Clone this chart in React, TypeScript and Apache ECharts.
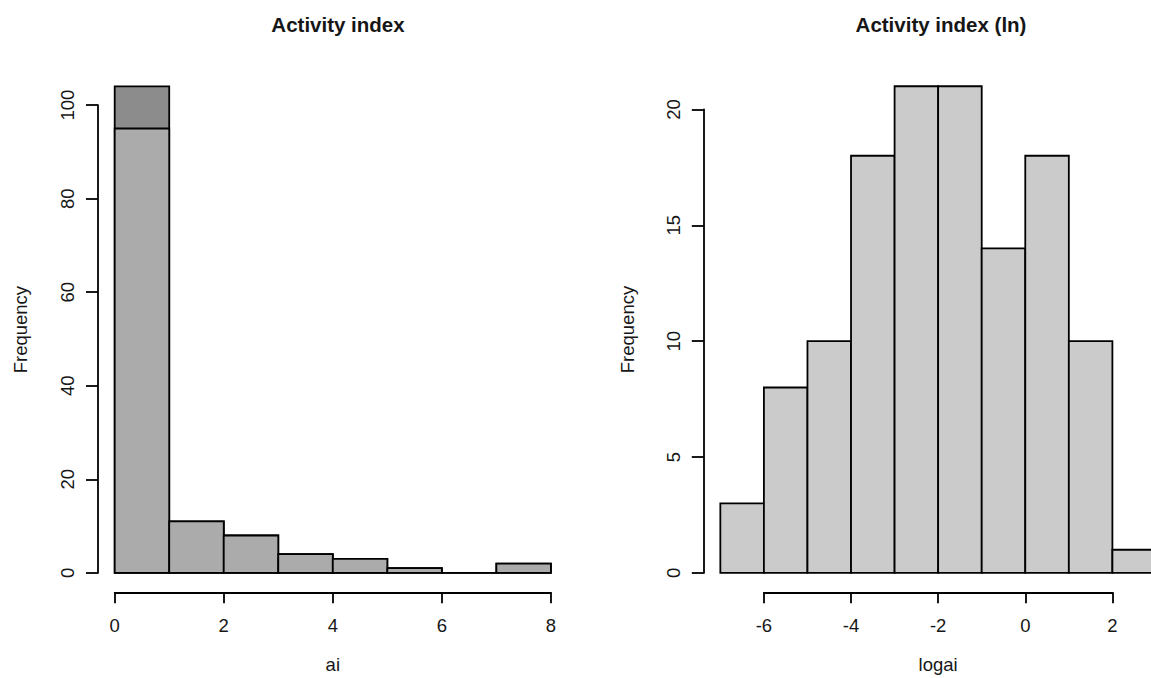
import React, { useEffect, useRef } from "react";
import * as echarts from "echarts";

// ---- data ----
const aiBinEdges = [0, 1, 2, 3, 4, 5, 6, 7, 8];
const aiCountsAll = [104, 11, 8, 4, 3, 1, 0, 2];
const aiCountsSub = [95, 11, 8, 4, 3, 1, 0, 2];
const logaiBinEdges = [-7, -6, -5, -4, -3, -2, -1, 0, 1, 2, 3];
const logaiCounts = [3, 8, 10, 18, 21, 21, 14, 18, 10, 1];

const leftTitle = "Activity index";
const rightTitle = "Activity index (ln)";
const leftXName = "ai";
const rightXName = "logai";
const yName = "Frequency";

const FONT = "'Liberation Sans', Arial, sans-serif";
const TXT = "#161616";
const LW = 1.8;
const AX_FS = 18.5;

function toBins(edges: number[], counts: number[]) {
  return counts.map((c, i) => [edges[i], edges[i + 1], c]);
}

function makeRender(fill: string) {
  return (_params: any, api: any) => {
    const x0 = api.value(0);
    const x1 = api.value(1);
    const c = api.value(2);
    const p0 = api.coord([x0, c]);
    const p1 = api.coord([x1, 0]);
    const w = p1[0] - p0[0];
    const h = p1[1] - p0[1];
    if (h < 0.5) {
      return {
        type: "line",
        shape: { x1: p0[0], y1: p1[1], x2: p1[0], y2: p1[1] },
        style: { stroke: "#000", lineWidth: LW },
      };
    }
    return {
      type: "rect",
      shape: { x: p0[0], y: p0[1], width: w, height: h },
      style: { fill, stroke: "#000", lineWidth: LW },
    };
  };
}

function xAxisOpt(gridIndex: number, min: number, max: number, name: string) {
  return {
    type: "value",
    gridIndex,
    min,
    max,
    interval: 2,
    position: "bottom",
    offset: 19.4,
    name,
    nameLocation: "middle",
    nameGap: 63,
    nameTextStyle: { fontFamily: FONT, fontSize: AX_FS, color: TXT },
    axisLine: { show: true, onZero: false, lineStyle: { color: "#000", width: LW } },
    axisTick: { show: true, length: 11, lineStyle: { color: "#000", width: LW } },
    axisLabel: { fontFamily: FONT, fontSize: AX_FS, color: TXT, margin: 24 },
    splitLine: { show: false },
  };
}

function yAxisOpt(gridIndex: number, max: number, interval: number, offset: number) {
  return {
    type: "value",
    gridIndex,
    min: 0,
    max,
    interval,
    position: "left",
    offset,
    axisLine: { show: true, onZero: false, lineStyle: { color: "#000", width: LW } },
    axisTick: { show: true, length: 12, lineStyle: { color: "#000", width: LW } },
    axisLabel: { fontFamily: FONT, fontSize: AX_FS, color: TXT, margin: 21, rotate: 90 },
    splitLine: { show: false },
  };
}

export default function App() {
  const ref = useRef<HTMLDivElement>(null);
  useEffect(() => {
    if (!ref.current) return;
    const chart = echarts.init(ref.current, undefined, { renderer: "svg" });
    chart.setOption({
      animation: false,
      backgroundColor: "#ffffff",
      title: [
        {
          text: leftTitle,
          left: 333,
          top: 9,
          textAlign: "center",
          textStyle: { fontFamily: FONT, fontSize: 20.5, fontWeight: "bold", color: TXT },
        },
        {
          text: rightTitle,
          left: 936,
          top: 9,
          textAlign: "center",
          textStyle: { fontFamily: FONT, fontSize: 20.5, fontWeight: "bold", color: TXT },
        },
      ],
      grid: [
        {
          left: 114.7,
          width: 436.2,
          top: 105.1,
          height: 467.8,
          containLabel: false,
          outerBoundsMode: "none",
        },
        {
          left: 763.9,
          width: 348.5,
          top: 109.4,
          height: 463.5,
          containLabel: false,
          outerBoundsMode: "none",
        },
      ],
      xAxis: [xAxisOpt(0, 0, 8, leftXName), xAxisOpt(1, -6, 2, rightXName)],
      yAxis: [yAxisOpt(0, 100, 20, 16.7), yAxisOpt(1, 20, 5, 60.1)],
      graphic: [
        {
          type: "text",
          x: 20,
          y: 329.6,
          rotation: Math.PI / 2,
          style: {
            text: yName,
            fontFamily: FONT,
            fontSize: AX_FS,
            fill: TXT,
            align: "center",
            verticalAlign: "middle",
          },
        },
        {
          type: "text",
          x: 627,
          y: 329.5,
          rotation: Math.PI / 2,
          style: {
            text: yName,
            fontFamily: FONT,
            fontSize: AX_FS,
            fill: TXT,
            align: "center",
            verticalAlign: "middle",
          },
        },
      ],
      series: [
        {
          type: "custom",
          xAxisIndex: 0,
          yAxisIndex: 0,
          clip: false,
          encode: { x: [0, 1], y: 2 },
          renderItem: makeRender("#8c8c8c"),
          data: toBins(aiBinEdges, aiCountsAll),
        },
        {
          type: "custom",
          xAxisIndex: 0,
          yAxisIndex: 0,
          clip: false,
          encode: { x: [0, 1], y: 2 },
          renderItem: makeRender("#ababab"),
          data: toBins(aiBinEdges, aiCountsSub),
        },
        {
          type: "custom",
          xAxisIndex: 1,
          yAxisIndex: 1,
          clip: false,
          encode: { x: [0, 1], y: 2 },
          renderItem: makeRender("#cbcbcb"),
          data: toBins(logaiBinEdges, logaiCounts),
        },
      ],
    });
    return () => chart.dispose();
  }, []);
  return (
    <div
      ref={ref}
      style={{ position: "fixed", left: 0, top: 0, width: 1151, height: 678, background: "#fff" }}
    />
  );
}
